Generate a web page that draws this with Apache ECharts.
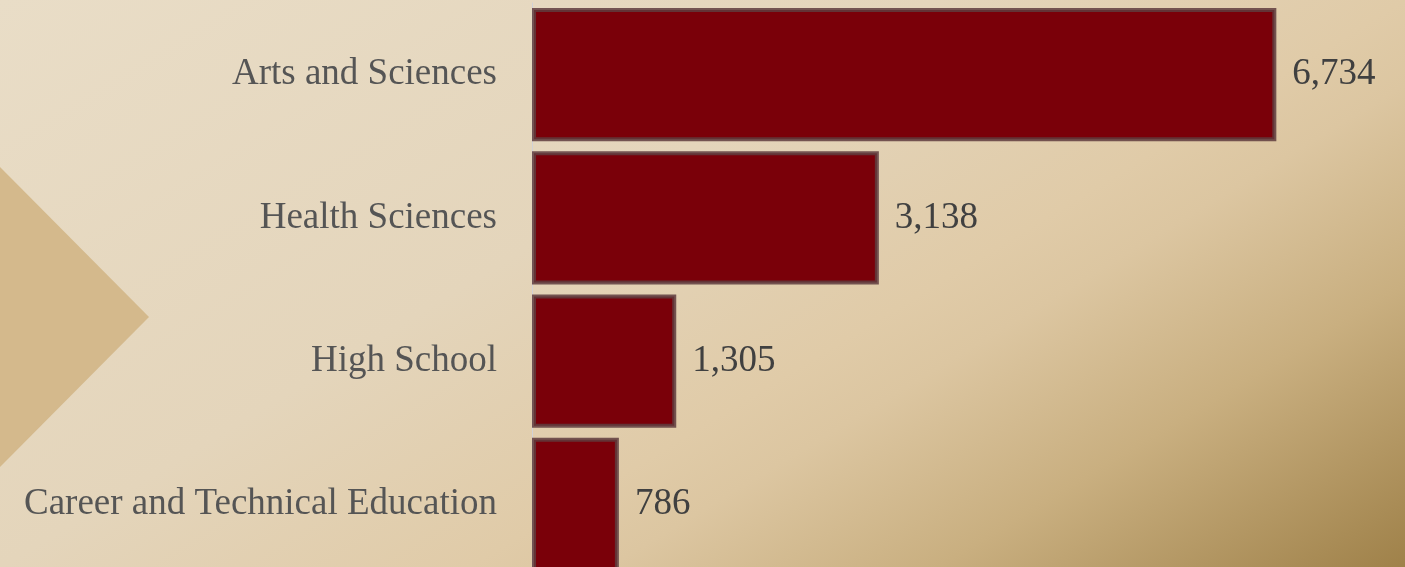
<!DOCTYPE html>
<html>
<head>
<meta charset="utf-8">
<script src="https://cdn.jsdelivr.net/npm/echarts@6/dist/echarts.min.js"></script>
<style>
html,body{margin:0;padding:0;width:1405px;height:567px;overflow:hidden;}
#chart{width:1405px;height:567px;}
</style>
</head>
<body>
<div id="chart"></div>
<script>
const categories = ["Arts and Sciences", "Health Sciences", "High School", "Career and Technical Education"];
const enrollment = [6734, 3138, 1305, 786];

const chart = echarts.init(document.getElementById('chart'));
const option = {
  backgroundColor: {
    type: 'linear', x: 0, y: 0, x2: 0.447, y2: 1.83,
    colorStops: [
      {offset: 0, color: '#e9ddc7'},
      {offset: 0.4, color: '#e4d5bb'},
      {offset: 0.6, color: '#e0cba8'},
      {offset: 0.66, color: '#dcc6a1'},
      {offset: 0.8, color: '#c9af80'},
      {offset: 1, color: '#9f8149'}
    ]
  },
  graphic: [{
    type: 'polygon',
    z: -1,
    shape: {points: [[0, 167], [149, 317], [0, 467]]},
    style: {fill: '#d4b98c'}
  }],
  grid: {left: 532, top: 3, width: 829, height: 573, outerBoundsMode: 'none', containLabel: false},
  xAxis: {
    type: 'value', min: 0, max: 7500, show: false
  },
  yAxis: {
    type: 'category',
    data: categories,
    inverse: true,
    axisLine: {show: true, lineStyle: {color: '#d2d2d6', width: 1}},
    axisTick: {show: false},
    axisLabel: {
      margin: 35,
      color: '#555555',
      fontFamily: 'Liberation Serif',
      fontSize: 37
    }
  },
  series: [{
    type: 'bar',
    data: enrollment,
    barCategoryGap: '7%',
    itemStyle: {
      color: '#7a0009',
      borderColor: 'rgba(95,60,62,0.85)',
      borderWidth: 4
    },
    label: {
      show: true,
      position: 'right',
      distance: 16,
      color: '#404040',
      fontFamily: 'Liberation Serif',
      fontSize: 37,
      formatter: p => p.value.toLocaleString('en-US')
    }
  }]
};
chart.setOption(option);
</script>
</body>
</html>
